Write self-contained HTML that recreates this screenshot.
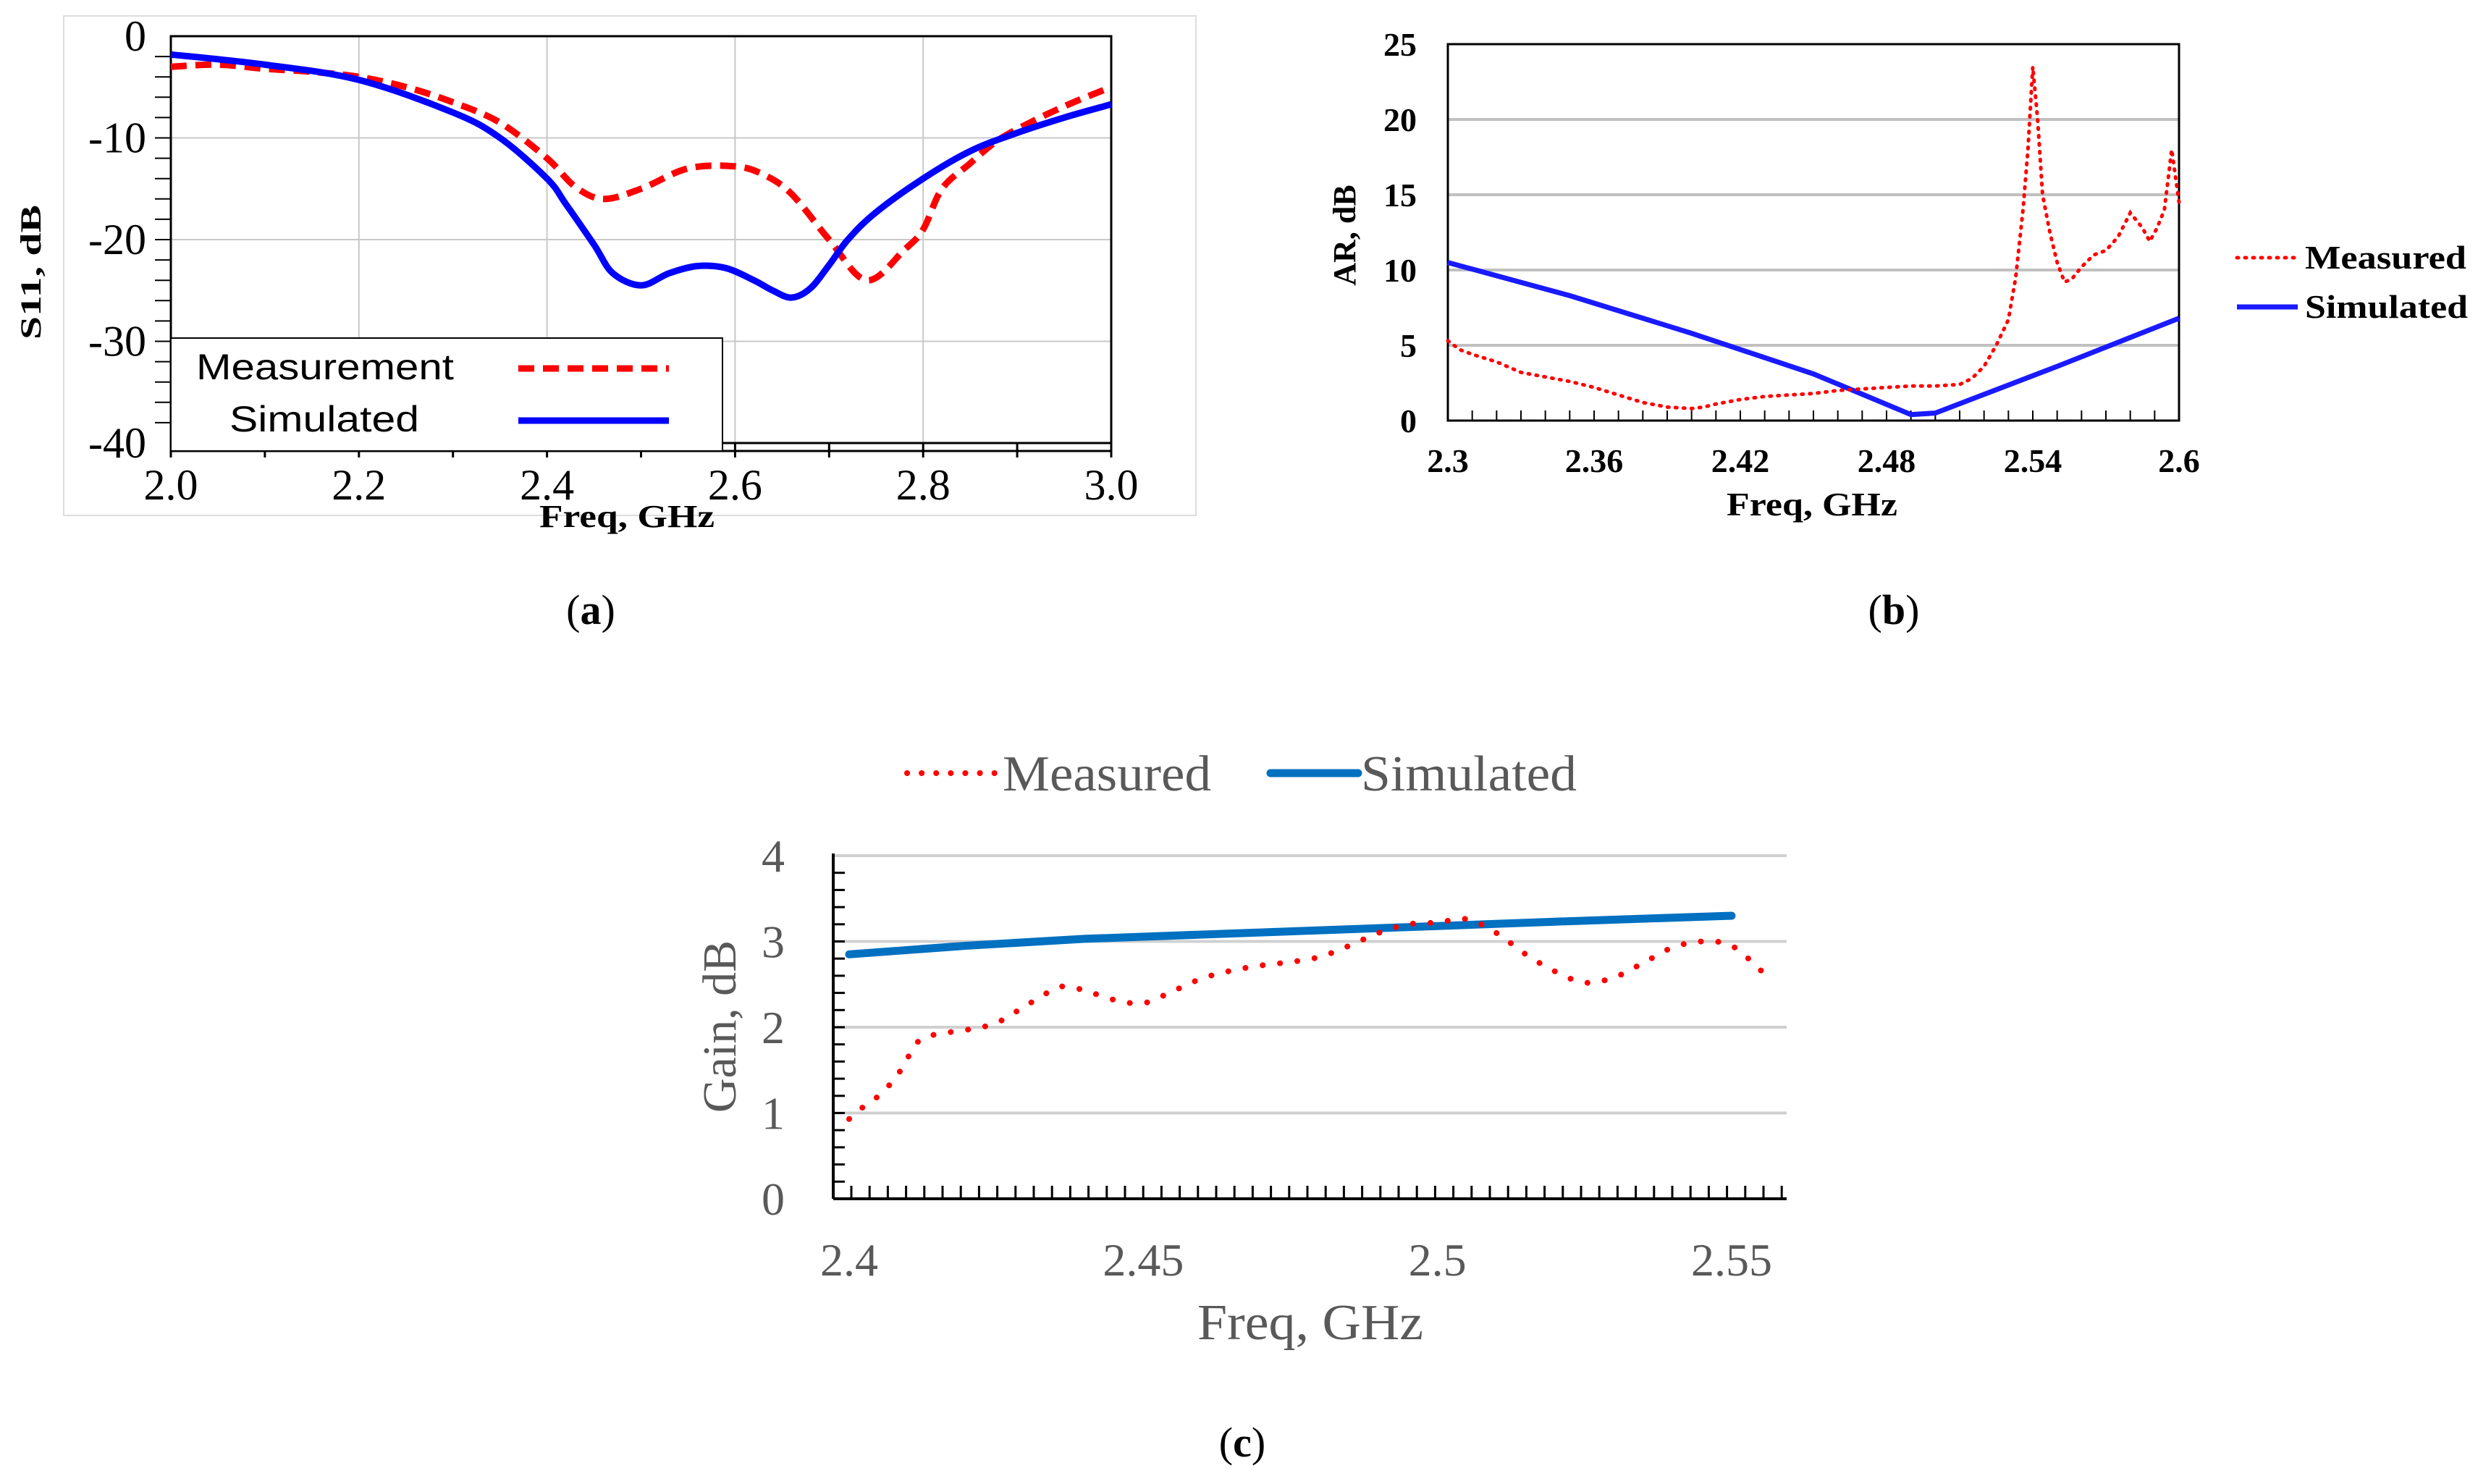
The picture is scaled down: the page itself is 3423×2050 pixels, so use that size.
<!DOCTYPE html>
<html><head><meta charset="utf-8"><style>
html,body{margin:0;padding:0;background:#fff;}
svg{display:block;}
</style></head><body>
<svg id="fig" width="3423" height="2050" viewBox="0 0 3423 2050" xmlns="http://www.w3.org/2000/svg">
<rect x="88" y="22" width="1564" height="690" fill="none" stroke="#ddd" stroke-width="2"/>
<g id="pa"></g>
<g id="pb"></g>
<g id="pc"></g>
<text x="816" y="862" font-family="Liberation Serif, serif" font-size="58" text-anchor="middle">(<tspan font-weight="bold">a</tspan>)</text>
<text x="2616" y="862" font-family="Liberation Serif, serif" font-size="58" text-anchor="middle">(<tspan font-weight="bold">b</tspan>)</text>
<text x="1716" y="2012" font-family="Liberation Serif, serif" font-size="58" text-anchor="middle">(<tspan font-weight="bold">c</tspan>)</text>
</svg>
<script>
// ---- Panel A data ----
const aMeasX=[2.0,2.05,2.1,2.15,2.2,2.25,2.3,2.35,2.4,2.43,2.46,2.5,2.55,2.6,2.63,2.66,2.7,2.74,2.78,2.8,2.82,2.85,2.88,2.92,2.96,3.0];
const aMeasY=[-3,-2.8,-3.2,-3.5,-4,-5,-6.5,-8.5,-12,-14.8,-16,-15,-13,-12.8,-13.6,-15.5,-20,-24,-21,-19,-15,-12.5,-10.2,-8.2,-6.5,-5];
const aSimX=[2.0,2.1,2.2,2.3,2.35,2.4,2.42,2.45,2.47,2.5,2.53,2.56,2.59,2.62,2.64,2.66,2.68,2.7,2.72,2.75,2.8,2.85,2.9,2.95,3.0];
const aSimY=[-1.8,-2.8,-4.3,-7.5,-10,-14,-16.5,-20.5,-23.3,-24.5,-23.3,-22.6,-22.8,-24,-25,-25.7,-24.8,-22.5,-20,-17.3,-14,-11.3,-9.5,-8,-6.7];
const aXTicks=["2.0","2.2","2.4","2.6","2.8","3.0"];
const aYTicks=["0","-10","-20","-30","-40"];
// ---- Panel B data ----
const bMeasX=[2.3,2.305,2.31,2.32,2.33,2.34,2.35,2.36,2.37,2.38,2.39,2.4,2.405,2.41,2.42,2.43,2.44,2.45,2.46,2.47,2.48,2.49,2.5,2.51,2.515,2.52,2.525,2.53,2.533,2.536,2.538,2.54,2.542,2.544,2.547,2.55,2.553,2.556,2.56,2.565,2.57,2.575,2.58,2.585,2.588,2.591,2.594,2.597,2.6];
const bMeasY=[5.3,4.7,4.4,3.9,3.2,2.9,2.6,2.2,1.7,1.2,0.9,0.8,0.9,1.1,1.4,1.6,1.7,1.8,2.0,2.1,2.2,2.3,2.3,2.4,2.8,3.6,5.0,6.7,9.5,14,18,23.5,20,15,12.5,10.5,9.2,9.4,10.2,11.0,11.3,12.2,13.8,12.8,11.9,12.8,14.0,18.0,14.5];
const bSimX=[2.3,2.35,2.4,2.45,2.49,2.5,2.55,2.6];
const bSimY=[10.5,8.3,5.8,3.1,0.4,0.5,3.6,6.8];
const bXTicks=["2.3","2.36","2.42","2.48","2.54","2.6"];
const bYTicks=["0","5","10","15","20","25"];
// ---- Panel C data ----
const cMeasX=[2.4,2.402,2.405,2.408,2.41,2.412,2.415,2.42,2.425,2.43,2.435,2.437,2.44,2.445,2.45,2.455,2.46,2.465,2.47,2.475,2.48,2.485,2.49,2.495,2.5,2.505,2.51,2.515,2.52,2.525,2.53,2.535,2.54,2.545,2.55,2.555];
const cMeasY=[0.93,1.05,1.2,1.42,1.65,1.85,1.92,1.97,2.05,2.25,2.45,2.47,2.43,2.32,2.28,2.42,2.57,2.66,2.72,2.76,2.82,2.95,3.1,3.2,3.22,3.26,3.1,2.85,2.65,2.52,2.58,2.75,2.93,3.0,2.95,2.66];
const cSimX=[2.4,2.42,2.44,2.46,2.48,2.5,2.52,2.55];
const cSimY=[2.85,2.95,3.03,3.08,3.13,3.18,3.23,3.3];
const cXTicks=["2.4","2.45","2.5","2.55"];
const cYTicks=["0","1","2","3","4"];

const NS="http://www.w3.org/2000/svg";
function mk(parent,tag,attrs,txt){const e=document.createElementNS(NS,tag);for(const k in attrs)e.setAttribute(k,attrs[k]);if(txt!==undefined)e.textContent=txt;parent.appendChild(e);return e;}
function lin(d0,d1,r0,r1){return v=>r0+(v-d0)/(d1-d0)*(r1-r0);}
function pathD(xs,ys,sx,sy){return xs.map((x,i)=>(i?'L':'M')+sx(x).toFixed(1)+','+sy(ys[i]).toFixed(1)).join(' ');}
function smoothD(xs,ys,sx,sy){
 const p=xs.map((x,i)=>[sx(x),sy(ys[i])]);
 let d='M'+p[0][0].toFixed(1)+','+p[0][1].toFixed(1);
 for(let i=0;i<p.length-1;i++){
  const p0=p[i-1]||p[i],p1=p[i],p2=p[i+1],p3=p[i+2]||p2;
  const c1=[p1[0]+(p2[0]-p0[0])/6,p1[1]+(p2[1]-p0[1])/6];
  const c2=[p2[0]-(p3[0]-p1[0])/6,p2[1]-(p3[1]-p1[1])/6];
  d+=' C'+c1[0].toFixed(1)+','+c1[1].toFixed(1)+' '+c2[0].toFixed(1)+','+c2[1].toFixed(1)+' '+p2[0].toFixed(1)+','+p2[1].toFixed(1);
 }
 return d;}

// ===== Panel A =====
(function(){
const g=document.getElementById('pa');
const L=236,R=1535,T=50,B=612;
const sx=lin(2.0,3.0,L,R), sy=lin(0,-40,T,B);
const serif="Liberation Serif, serif";
for(let i=0;i<aXTicks.length;i++){const x=sx(parseFloat(aXTicks[i]));
 const gl=mk(g,'line',{x1:x,y1:T,x2:x,y2:B,stroke:'#c8c8c8','stroke-width':2});
 
 
 const t=mk(g,'text',{x:x,y:690,'font-family':serif,'font-size':60,'text-anchor':'middle'},aXTicks[i]);
 
 }
for(let i=0;i<aYTicks.length;i++){const y=sy(parseFloat(aYTicks[i]));
 const gl=mk(g,'line',{x1:L,y1:y,x2:R,y2:y,stroke:'#c8c8c8','stroke-width':2});
 
 
 const t=mk(g,'text',{x:202,y:y+20,'font-family':serif,'font-size':60,'text-anchor':'end'},aYTicks[i]);
 
 }
for(let v=-2;v>-40;v-=2){const y=sy(v);const tk=mk(g,'line',{x1:L,y1:y,x2:L-22,y2:y,stroke:'#000','stroke-width':2});
 
 }
for(let v=2.0;v<=3.001;v+=0.1){const x=sx(v);const tk=mk(g,'line',{x1:x,y1:B,x2:x,y2:632,stroke:'#000','stroke-width':3});
 
 }
const fr=mk(g,'rect',{x:L,y:T,width:R-L,height:B-T,fill:'none',stroke:'#000','stroke-width':3});


const ax2=mk(g,'line',{x1:L,y1:623,x2:R,y2:623,stroke:'#000','stroke-width':3});


const m=mk(g,'path',{d:smoothD(aMeasX,aMeasY,sx,sy),fill:'none',stroke:'#ff0000','stroke-width':9,'stroke-dasharray':'22,12'});


const s=mk(g,'path',{d:smoothD(aSimX,aSimY,sx,sy),fill:'none',stroke:'#0000ff','stroke-width':9});


const lg=mk(g,'rect',{x:L,y:467,width:762,height:156,fill:'#fff',stroke:'#000','stroke-width':2});


const t1=mk(g,'text',{x:271,y:524,'font-family':'Liberation Sans, sans-serif','font-size':50,textLength:356,lengthAdjust:'spacingAndGlyphs'},'Measurement');


const l1=mk(g,'line',{x1:716,y1:509,x2:924,y2:509,stroke:'#ff0000','stroke-width':9,'stroke-dasharray':'22,12'});


const t2=mk(g,'text',{x:317,y:596,'font-family':'Liberation Sans, sans-serif','font-size':50,textLength:262,lengthAdjust:'spacingAndGlyphs'},'Simulated');


const l2=mk(g,'line',{x1:716,y1:581,x2:924,y2:581,stroke:'#0000ff','stroke-width':9});


const xt=mk(g,'text',{x:745,y:728,'font-family':serif,'font-size':44,'font-weight':'bold',textLength:242,lengthAdjust:'spacingAndGlyphs'},'Freq, GHz');


const yt=mk(g,'text',{x:0,y:0,'font-family':serif,'font-size':40,'font-weight':'bold','text-anchor':'middle',textLength:186,lengthAdjust:'spacingAndGlyphs',transform:'translate(56,376) rotate(-90)'},'S11, dB');


})();

// ===== Panel B =====
(function(){
const g=document.getElementById('pb');
const L=2000,R=3010,T=61,B=581;
const sx=lin(2.3,2.6,L,R), sy=lin(0,25,B,T);
const serif="Liberation Serif, serif";
for(let i=1;i<bYTicks.length-1;i++){const y=sy(parseFloat(bYTicks[i]));
 const gl=mk(g,'line',{x1:L,y1:y,x2:R,y2:y,stroke:'#c0c0c0','stroke-width':4});
 
 }
for(let i=0;i<bYTicks.length;i++){const y=sy(parseFloat(bYTicks[i]));
 const t=mk(g,'text',{x:1957,y:y+16,'font-family':serif,'font-size':46,'font-weight':'bold','text-anchor':'end'},bYTicks[i]);
 
 }
for(let i=0;i<bXTicks.length;i++){const x=sx(parseFloat(bXTicks[i]));
 const t=mk(g,'text',{x:x,y:652,'font-family':serif,'font-size':46,'font-weight':'bold','text-anchor':'middle'},bXTicks[i]);
 
 }
for(let k=1;k<30;k++){const x=sx(2.3+k*0.01);const tk=mk(g,'line',{x1:x,y1:B,x2:x,y2:B-14,stroke:'#000','stroke-width':2});
 
 }
const fr=mk(g,'rect',{x:L,y:T,width:R-L,height:B-T,fill:'none',stroke:'#000','stroke-width':3});


const s=mk(g,'path',{d:pathD(bSimX,bSimY,sx,sy),fill:'none',stroke:'#1a1aff','stroke-width':7});


const m=mk(g,'path',{d:pathD(bMeasX,bMeasY,sx,sy),fill:'none',stroke:'#ff0000','stroke-width':5,'stroke-dasharray':'2,9','stroke-linecap':'round'});


const l1=mk(g,'line',{x1:3090,y1:356,x2:3174,y2:356,stroke:'#ff0000','stroke-width':5,'stroke-dasharray':'2,9','stroke-linecap':'round'});


const t1=mk(g,'text',{x:3184,y:371,'font-family':serif,'font-size':46,'font-weight':'bold',textLength:223,lengthAdjust:'spacingAndGlyphs'},'Measured');


const l2=mk(g,'line',{x1:3090,y1:424,x2:3174,y2:424,stroke:'#1a1aff','stroke-width':7});


const t2=mk(g,'text',{x:3184,y:439,'font-family':serif,'font-size':46,'font-weight':'bold',textLength:225,lengthAdjust:'spacingAndGlyphs'},'Simulated');


const xt=mk(g,'text',{x:2385,y:712,'font-family':serif,'font-size':46,'font-weight':'bold',textLength:236,lengthAdjust:'spacingAndGlyphs'},'Freq, GHz');


const yt=mk(g,'text',{x:0,y:0,'font-family':serif,'font-size':44,'font-weight':'bold','text-anchor':'middle',transform:'translate(1872,325) rotate(-90)'},'AR, dB');


})();

// ===== Panel C =====
(function(){
const g=document.getElementById('pc');
const L=1151,R=2468,T=1182,B=1656;
const sx=lin(2.4,2.55,1173,2392), sy=lin(0,4,B,T);
const serif="Liberation Serif, serif";
for(let i=1;i<cYTicks.length;i++){const y=sy(parseFloat(cYTicks[i]));
 const gl=mk(g,'line',{x1:L,y1:y,x2:R,y2:y,stroke:'#d0d0d0','stroke-width':4});
 
 }
for(let i=0;i<cYTicks.length;i++){const y=sy(parseFloat(cYTicks[i]));
 const t=mk(g,'text',{x:1068,y:y+22,'font-family':serif,'font-size':64,fill:'#595959','text-anchor':'middle'},cYTicks[i]);
 
 }
for(let i=0;i<cXTicks.length;i++){const x=sx(parseFloat(cXTicks[i]));
 const t=mk(g,'text',{x:x,y:1762,'font-family':serif,'font-size':64,fill:'#595959','text-anchor':'middle'},cXTicks[i]);
 
 }
for(let v=0.2;v<4;v+=0.2){const y=sy(v);const tk=mk(g,'line',{x1:L,y1:y,x2:L+16,y2:y,stroke:'#000','stroke-width':3});
 
 }
for(let x=L+25;x<=R;x+=25.2){const tk=mk(g,'line',{x1:x,y1:B,x2:x,y2:B-18,stroke:'#000','stroke-width':3});
 
 }
const ya=mk(g,'line',{x1:L,y1:T-3,x2:L,y2:B,stroke:'#000','stroke-width':4});


const xa=mk(g,'line',{x1:L,y1:B,x2:R,y2:B,stroke:'#000','stroke-width':4});


const s=mk(g,'path',{d:pathD(cSimX,cSimY,sx,sy),fill:'none',stroke:'#0070c0','stroke-width':11,'stroke-linecap':'round'});


const m=mk(g,'path',{d:smoothD(cMeasX,cMeasY,sx,sy),fill:'none',stroke:'#ff0000','stroke-width':8,'stroke-dasharray':'0.1,24','stroke-linecap':'round'});


const l1=mk(g,'line',{x1:1253,y1:1068,x2:1374,y2:1068,stroke:'#ff0000','stroke-width':8,'stroke-dasharray':'0.1,20','stroke-linecap':'round'});


const t1=mk(g,'text',{x:1385,y:1092,'font-family':serif,'font-size':70,fill:'#595959',textLength:288,lengthAdjust:'spacingAndGlyphs'},'Measured');


const l2=mk(g,'line',{x1:1755,y1:1068,x2:1876,y2:1068,stroke:'#0070c0','stroke-width':11,'stroke-linecap':'round'});


const t2=mk(g,'text',{x:1880,y:1092,'font-family':serif,'font-size':70,fill:'#595959',textLength:298,lengthAdjust:'spacingAndGlyphs'},'Simulated');


const xt=mk(g,'text',{x:1654,y:1850,'font-family':serif,'font-size':70,fill:'#595959',textLength:312,lengthAdjust:'spacingAndGlyphs'},'Freq, GHz');


const yt=mk(g,'text',{x:0,y:0,'font-family':serif,'font-size':66,fill:'#595959','text-anchor':'middle',transform:'translate(1016,1418) rotate(-90)'},'Gain, dB');


})();
</script>
</body></html>
